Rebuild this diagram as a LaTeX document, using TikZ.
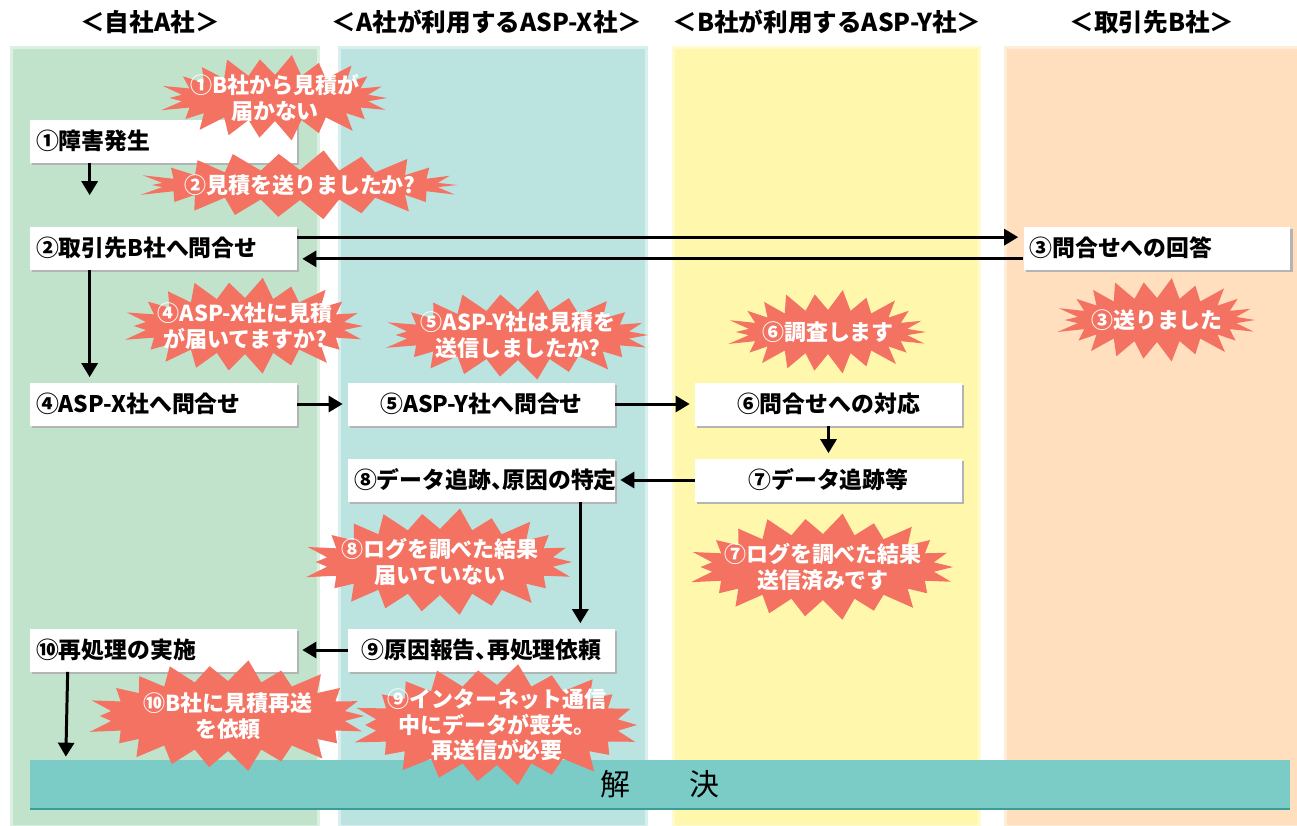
\documentclass[tikz,border=0pt]{standalone}
\usepackage{fontspec}
\setmainfont{Noto Sans CJK JP}
\newfontfamily\boxfont{Noto Sans CJK JP}[RawFeature=+halt]
\usepackage{tikz}
\usetikzlibrary{arrows.meta,shadows}
\definecolor{lanegreen}{HTML}{C1E3CC}
\definecolor{laneteal}{HTML}{BBE3E0}
\definecolor{laneyellow}{HTML}{FFF8AC}
\definecolor{lanepeach}{HTML}{FFDFBD}
\definecolor{burstred}{HTML}{F37262}
\definecolor{barteal}{HTML}{7BCBC7}
\definecolor{baredge}{HTML}{3C9C96}
\definecolor{boxshadow}{HTML}{B4B4B4}

% #1 name, #2 centre, #3 half width, #4 half height, #5 text
\newcommand\burstnode[5]{%
  \fill[burstred, shift={#2}] (0:#3 and #4)
    \foreach \i [evaluate=\i as \ax using {mod(\i,2)==0 ? #3*(1+0.06*sin(\i*77)) : #3-18},
                 evaluate=\i as \ay using {mod(\i,2)==0 ? #4*(1+0.06*sin(\i*77)) : #4-18}] in {1,...,43}
    { -- ({\i*360/44}:{\ax} and {\ay}) } -- cycle;
  \node[bursttext] (#1) at #2 {#5};}

\begin{document}
\begin{tikzpicture}[x=0.02cm,y=-0.02cm,
  lane/.style={fill=#1, draw=white, draw opacity=0.45, line width=3pt},
  head/.style={font=\fontsize{14}{16}\selectfont\bfseries},
  box/.style={fill=white, minimum height=0.86cm, text width=5.1cm, inner xsep=0.12cm, inner ysep=0pt,
    font=\boxfont\fontsize{13}{15}\selectfont\bfseries,
    drop shadow={shadow xshift=1.3pt, shadow yshift=-1.3pt, fill=boxshadow, opacity=1}},
  lbox/.style={box, align=left},
  cbox/.style={box, align=center},
  bar/.style={fill=barteal, minimum width=25.2cm, minimum height=0.96cm, inner sep=0pt,
    font=\fontsize{17}{20}\selectfont,
    drop shadow={shadow xshift=0pt, shadow yshift=-1.3pt, fill=baredge, opacity=1}},
  bursttext/.style={text=white, align=center, inner sep=0pt, font=\fontsize{12.5}{14.5}\selectfont\bfseries},
  arr/.style={line width=1.7pt, -{Triangle[length=0.28cm,width=0.32cm]}, shorten >=0.1cm}]
\useasboundingbox (0,0) rectangle (1297,825);

\path[lane=lanegreen] (10,46) rectangle (320,828);
\path[lane=laneteal] (338,46) rectangle (648,828);
\path[lane=laneyellow] (672,46) rectangle (981,828);
\path[lane=lanepeach] (1004,46) rectangle (1300,828);

\node[head] (hA) at (150,22) {＜自社A社＞};
\node[head] (hX) at (487,22) {＜A社が利用するASP-X社＞};
\node[head] (hY) at (827,22) {＜B社が利用するASP-Y社＞};
\node[head] (hB) at (1152,22) {＜取引先B社＞};

\node[lbox] (b1) at (163.5,141) {①障害発生};
\node[lbox] (b2) at (163.5,248) {②取引先B社へ問合せ};
\node[lbox] (b3) at (1157,248) {③問合せへの回答};
\node[lbox] (b4) at (163.5,404) {④ASP-X社へ問合せ};
\node[cbox] (b5) at (481.5,404) {⑤ASP-Y社へ問合せ};
\node[cbox] (b6) at (828.5,404) {⑥問合せへの対応};
\node[cbox] (b7) at (828.5,480) {⑦データ追跡等};
\node[cbox] (b8) at (481.5,480) {⑧データ追跡、原因の特定};
\node[cbox] (b9) at (481.5,650) {⑨原因報告、再処理依頼};
\node[lbox] (b10) at (163.5,650) {⑩再処理の実施};
\node[bar] (end) at (660,784) {解　　決};

\draw[arr, shorten >=0.62cm] ([xshift=1.2cm]b1.south west) -- ([xshift=1.2cm]b2.north west);
\draw[arr] ([yshift=-0.22cm]b2.north east) -- ([yshift=-0.22cm]b3.north west);
\draw[arr] ([yshift=0.22cm]b3.south west) -- ([yshift=0.22cm]b2.south east);
\draw[arr] ([xshift=1.2cm]b2.south west) -- ([xshift=1.2cm]b4.north west);
\draw[arr] (b4) -- (b5);
\draw[arr] (b5) -- (b6);
\draw[arr] (b6) -- (b7);
\draw[arr] (b7) -- (b8);
\draw[arr] ([xshift=-0.7cm]b8.south east) -- ([xshift=-0.7cm]b9.north east);
\draw[arr] (b9) -- (b10);
\draw[arr, shorten >=0.06cm] ([xshift=0.76cm]b10.south west) -- ([xshift=0.72cm]end.north west);

\burstnode{s1}{(275,98)}{112}{41}{①B社から見積が\\届かない}
\burstnode{s2}{(300,185)}{157}{33}{②見積を送りましたか?}
\burstnode{s3}{(1157,320)}{98}{40}{③送りました}
\burstnode{s4}{(245,326)}{118}{46}{④ASP-X社に見積\\が届いてますか?}
\burstnode{s5}{(518,335)}{130}{43}{⑤ASP-Y社は見積を\\送信しましたか?}
\burstnode{s6}{(828,332)}{98}{40}{⑥調査します}
\burstnode{s7}{(823,567)}{130}{51}{⑦ログを調べた結果\\送信済みです}
\burstnode{s8}{(440,562)}{132}{51}{⑧ログを調べた結果\\届いていない}
\burstnode{s9}{(497,725)}{140}{58}{⑨インターネット通信\\中にデータが喪失。\\再送信が必要}
\burstnode{s10}{(228,716)}{136}{53}{⑩B社に見積再送\\を依頼}
\end{tikzpicture}
\end{document}
